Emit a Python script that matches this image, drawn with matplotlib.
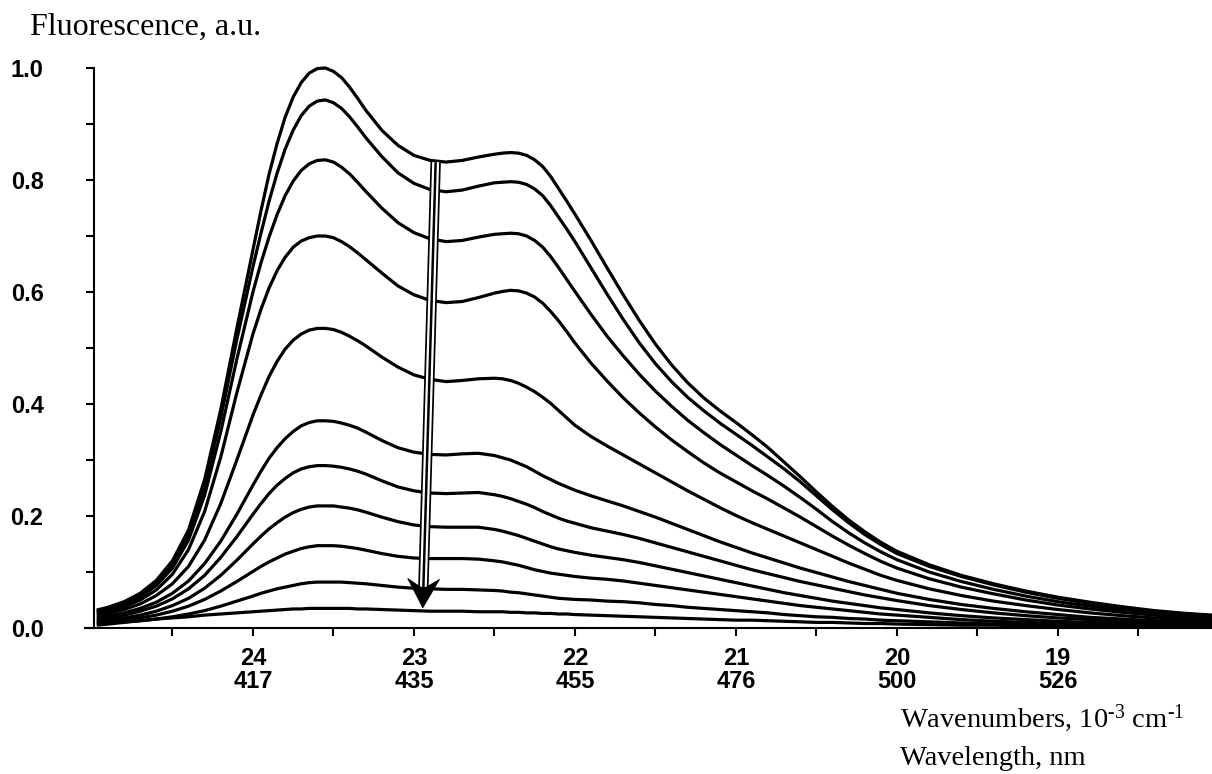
import math
import matplotlib
matplotlib.use("Agg")
import matplotlib.pyplot as plt
from matplotlib.patches import Polygon

# ---------------- data ----------------
wavenumber = [24.97, 24.9, 24.8, 24.7, 24.6, 24.5, 24.4, 24.3, 24.2, 24.1,
              24.0, 23.95, 23.9, 23.85, 23.8, 23.75, 23.7, 23.65, 23.6, 23.55,
              23.5, 23.45, 23.4, 23.35, 23.3, 23.2, 23.1, 23.0, 22.9, 22.8,
              22.7, 22.6, 22.5, 22.45, 22.4, 22.35, 22.3, 22.25, 22.2, 22.15,
              22.1, 22.05, 22.0, 21.9, 21.8, 21.7, 21.6, 21.5, 21.4, 21.3,
              21.2, 21.1, 21.0, 20.9, 20.8, 20.7, 20.6, 20.5, 20.4, 20.3,
              20.2, 20.1, 20.0, 19.8, 19.6, 19.4, 19.2, 19.0, 18.8, 18.6,
              18.4, 18.2, 18.04]

c1 = [0.032, 0.037, 0.047, 0.062, 0.085, 0.12, 0.175, 0.265, 0.39, 0.535,
      0.675, 0.745, 0.81, 0.865, 0.912, 0.948, 0.974, 0.991, 0.999, 1.0,
      0.994, 0.983, 0.966, 0.946, 0.925, 0.889, 0.862, 0.844, 0.835, 0.832,
      0.835, 0.841, 0.846, 0.848, 0.849, 0.848, 0.844, 0.836, 0.824, 0.806,
      0.784, 0.762, 0.739, 0.692, 0.643, 0.595, 0.549, 0.507, 0.47, 0.438,
      0.411, 0.388, 0.367, 0.345, 0.322, 0.296, 0.27, 0.243, 0.217, 0.193,
      0.172, 0.153, 0.137, 0.113, 0.094, 0.079, 0.066, 0.055, 0.046, 0.038,
      0.031, 0.026, 0.023]
c2 = [0.030, 0.035, 0.045, 0.059, 0.081, 0.114, 0.167, 0.252, 0.375, 0.515,
      0.645, 0.705, 0.762, 0.812, 0.855, 0.889, 0.915, 0.932, 0.941, 0.943,
      0.938, 0.928, 0.913, 0.895, 0.876, 0.842, 0.813, 0.794, 0.783, 0.779,
      0.782, 0.789, 0.795, 0.796, 0.797, 0.796, 0.792, 0.784, 0.772, 0.754,
      0.733, 0.712, 0.69, 0.643, 0.596, 0.551, 0.509, 0.472, 0.44, 0.412,
      0.388, 0.366, 0.346, 0.326, 0.305, 0.284, 0.261, 0.236, 0.211, 0.188,
      0.167, 0.149, 0.133, 0.11, 0.092, 0.077, 0.064, 0.053, 0.044, 0.036,
      0.03, 0.025, 0.022]
c3 = [0.028, 0.033, 0.042, 0.055, 0.076, 0.107, 0.157, 0.237, 0.35, 0.48,
      0.60, 0.652, 0.698, 0.738, 0.772, 0.798, 0.817, 0.829, 0.835, 0.836,
      0.832, 0.823, 0.811, 0.796, 0.78, 0.75, 0.724, 0.706, 0.695, 0.69,
      0.692, 0.698, 0.703, 0.704, 0.705, 0.704, 0.70, 0.692, 0.68, 0.663,
      0.643, 0.622, 0.601, 0.56, 0.521, 0.486, 0.453, 0.423, 0.396, 0.371,
      0.349, 0.328, 0.309, 0.29, 0.272, 0.253, 0.233, 0.212, 0.19, 0.17,
      0.152, 0.136, 0.122, 0.10, 0.083, 0.069, 0.057, 0.047, 0.039, 0.032,
      0.027, 0.022, 0.02]
c4 = [0.025, 0.03, 0.038, 0.05, 0.068, 0.096, 0.14, 0.208, 0.305, 0.42,
      0.525, 0.569, 0.607, 0.638, 0.662, 0.68, 0.691, 0.697, 0.70, 0.70,
      0.697, 0.69, 0.681, 0.67, 0.658, 0.634, 0.611, 0.595, 0.585, 0.581,
      0.583, 0.59, 0.598, 0.601, 0.603, 0.602, 0.598, 0.591, 0.58, 0.565,
      0.548, 0.529, 0.509, 0.473, 0.441, 0.411, 0.384, 0.359, 0.336, 0.315,
      0.295, 0.277, 0.261, 0.245, 0.23, 0.214, 0.198, 0.181, 0.164, 0.148,
      0.133, 0.119, 0.107, 0.088, 0.073, 0.061, 0.05, 0.041, 0.034, 0.028,
      0.023, 0.019, 0.017]
c5 = [0.022, 0.026, 0.033, 0.043, 0.058, 0.079, 0.11, 0.157, 0.222, 0.30,
      0.38, 0.416, 0.449, 0.476, 0.498, 0.514, 0.525, 0.532, 0.535, 0.535,
      0.533, 0.528, 0.521, 0.513, 0.504, 0.484, 0.466, 0.452, 0.444, 0.44,
      0.442, 0.445, 0.446, 0.445, 0.442, 0.437, 0.43, 0.422, 0.412, 0.401,
      0.388, 0.375, 0.362, 0.342, 0.325, 0.309, 0.293, 0.277, 0.261, 0.245,
      0.23, 0.215, 0.201, 0.188, 0.176, 0.164, 0.152, 0.14, 0.128, 0.116,
      0.105, 0.094, 0.085, 0.07, 0.058, 0.048, 0.04, 0.033, 0.027, 0.022,
      0.018, 0.015, 0.013]
c6 = [0.018, 0.021, 0.027, 0.035, 0.046, 0.062, 0.084, 0.115, 0.155, 0.203,
      0.255, 0.28, 0.303, 0.322, 0.338, 0.351, 0.361, 0.367, 0.37, 0.37,
      0.369, 0.366, 0.362, 0.357, 0.35, 0.335, 0.322, 0.314, 0.31, 0.309,
      0.311, 0.312, 0.308, 0.304, 0.30, 0.294, 0.288, 0.28, 0.272, 0.265,
      0.258, 0.252, 0.246, 0.236, 0.227, 0.218, 0.208, 0.198, 0.187, 0.176,
      0.165, 0.154, 0.144, 0.134, 0.125, 0.116, 0.107, 0.099, 0.091, 0.083,
      0.076, 0.069, 0.062, 0.051, 0.042, 0.035, 0.029, 0.024, 0.019, 0.016,
      0.013, 0.011, 0.01]
c7 = [0.015, 0.018, 0.023, 0.03, 0.039, 0.052, 0.07, 0.094, 0.126, 0.163,
      0.203, 0.222, 0.24, 0.255, 0.267, 0.277, 0.284, 0.288, 0.29, 0.29,
      0.289, 0.287, 0.284, 0.28, 0.275, 0.263, 0.252, 0.245, 0.241, 0.24,
      0.241, 0.242, 0.238, 0.235, 0.231, 0.226, 0.221, 0.215, 0.208, 0.202,
      0.196, 0.191, 0.187, 0.179, 0.173, 0.167, 0.16, 0.152, 0.144, 0.136,
      0.128, 0.12, 0.112, 0.104, 0.097, 0.09, 0.083, 0.077, 0.071, 0.065,
      0.059, 0.054, 0.049, 0.04, 0.033, 0.027, 0.022, 0.018, 0.015, 0.012,
      0.01, 0.009, 0.008]
c8 = [0.012, 0.014, 0.018, 0.023, 0.03, 0.04, 0.053, 0.071, 0.094, 0.121,
      0.15, 0.164, 0.177, 0.188, 0.198, 0.206, 0.212, 0.216, 0.218, 0.218,
      0.218, 0.216, 0.214, 0.211, 0.207, 0.198, 0.19, 0.184, 0.181, 0.18,
      0.18, 0.18, 0.176, 0.173, 0.169, 0.165, 0.16, 0.155, 0.15, 0.145,
      0.141, 0.138, 0.135, 0.13, 0.126, 0.122, 0.117, 0.111, 0.105, 0.099,
      0.093, 0.087, 0.081, 0.075, 0.069, 0.063, 0.058, 0.053, 0.048, 0.044,
      0.04, 0.036, 0.033, 0.027, 0.022, 0.018, 0.015, 0.012, 0.01, 0.008,
      0.007, 0.006, 0.006]
c9 = [0.01, 0.011, 0.014, 0.018, 0.023, 0.03, 0.039, 0.051, 0.066, 0.083,
      0.101, 0.11, 0.118, 0.125, 0.132, 0.137, 0.142, 0.145, 0.147, 0.147,
      0.147, 0.146, 0.144, 0.142, 0.139, 0.133, 0.128, 0.125, 0.124, 0.124,
      0.124, 0.123, 0.12, 0.118, 0.115, 0.112, 0.108, 0.104, 0.101, 0.098,
      0.096, 0.094, 0.092, 0.089, 0.087, 0.084, 0.08, 0.076, 0.072, 0.068,
      0.064, 0.06, 0.056, 0.052, 0.048, 0.044, 0.04, 0.037, 0.034, 0.031,
      0.028, 0.025, 0.023, 0.019, 0.015, 0.012, 0.01, 0.008, 0.007, 0.006,
      0.005, 0.005, 0.004]
c10 = [0.008, 0.009, 0.011, 0.013, 0.016, 0.02, 0.025, 0.031, 0.039, 0.048,
       0.057, 0.062, 0.066, 0.07, 0.073, 0.076, 0.079, 0.081, 0.082, 0.082,
       0.082, 0.082, 0.081, 0.08, 0.079, 0.076, 0.073, 0.071, 0.07, 0.069,
       0.069, 0.068, 0.067, 0.066, 0.064, 0.063, 0.061, 0.059, 0.057, 0.055,
       0.053, 0.052, 0.051, 0.05, 0.048, 0.047, 0.045, 0.042, 0.04, 0.037,
       0.035, 0.033, 0.031, 0.029, 0.027, 0.024, 0.022, 0.02, 0.019, 0.017,
       0.016, 0.014, 0.013, 0.011, 0.009, 0.007, 0.006, 0.005, 0.004, 0.004,
       0.003, 0.003, 0.003]
c11 = [0.005, 0.007, 0.01, 0.013, 0.016, 0.018, 0.02, 0.023, 0.025, 0.027,
       0.029, 0.03, 0.031, 0.032, 0.033, 0.034, 0.034, 0.035, 0.035, 0.035,
       0.035, 0.035, 0.035, 0.034, 0.034, 0.033, 0.032, 0.031, 0.03, 0.03,
       0.03, 0.029, 0.029, 0.029, 0.028, 0.028, 0.027, 0.027, 0.026, 0.026,
       0.025, 0.025, 0.024, 0.023, 0.022, 0.021, 0.02, 0.019, 0.018, 0.017,
       0.016, 0.015, 0.014, 0.014, 0.013, 0.012, 0.011, 0.01, 0.01, 0.009,
       0.008, 0.008, 0.007, 0.006, 0.005, 0.005, 0.004, 0.004, 0.003, 0.003,
       0.003, 0.002, 0.002]
curves = [c1, c2, c3, c4, c5, c6, c7, c8, c9, c10, c11]

x_major = [24, 23, 22, 21, 20, 19]
wavelength_nm = ["417", "435", "455", "476", "500", "526"]
x_minor = [24.5, 23.5, 22.5, 21.5, 20.5, 19.5, 18.5]
y_major = [0.0, 0.2, 0.4, 0.6, 0.8, 1.0]
y_minor = [0.1, 0.3, 0.5, 0.7, 0.9]

arrow_start = (22.865, 0.832)   # top of the arrow (data coords)
arrow_tip = (22.945, 0.036)     # tip of the arrow head

# ---------------- figure ----------------
plt.rcParams["mathtext.fontset"] = "custom"
plt.rcParams["mathtext.rm"] = "Liberation Serif"
plt.rcParams["mathtext.it"] = "Liberation Serif:italic"
plt.rcParams["mathtext.bf"] = "Liberation Serif:bold"

W, H = 1212, 774
fig = plt.figure(figsize=(W / 100, H / 100), dpi=100)
ax = fig.add_axes([85 / W, (H - 628) / H, (W - 85) / W, 560 / H])
ax.set_xlim(25.043, 18.043)
ax.set_ylim(0.0, 1.0)

for c in curves:
    n = min(len(wavenumber), len(c))
    ax.plot(wavenumber[:n], c[:n], color="black", lw=2.3, solid_capstyle="butt",
            solid_joinstyle="round", clip_on=False, zorder=3)

for s in ("top", "right"):
    ax.spines[s].set_visible(False)
ax.spines["left"].set_position(("data", 24.99))
ax.spines["left"].set_linewidth(1.5)
ax.spines["bottom"].set_linewidth(1.5)

ax.set_xticks(x_major)
ax.set_xticks(x_minor, minor=True)
ax.set_xticklabels([f"{w}\n{n}" for w, n in zip(x_major, wavelength_nm)])
ax.set_yticks(y_major)
ax.set_yticks(y_minor, minor=True)
ax.set_yticklabels([f"{v:.1f}" for v in y_major])

ax.tick_params(axis="both", which="both", direction="out", length=6, width=1.5)
ax.tick_params(axis="x", which="major", pad=7.5)
ax.tick_params(axis="y", which="major", pad=30)
for lab in ax.get_xticklabels() + ax.get_yticklabels():
    lab.set_fontfamily("Liberation Sans")
    lab.set_fontweight("bold")
    lab.set_fontsize(17)
for lab in ax.get_xticklabels():
    lab.set_linespacing(1.0)

# ---------------- arrow ----------------
fig.canvas.draw()
to_disp = ax.transData.transform
to_data = ax.transData.inverted().transform
(sx, sy) = to_disp(arrow_start)
(tx, ty) = to_disp(arrow_tip)
head_len, head_half, notch = 29, 16, 10
L = math.hypot(tx - sx, ty - sy)
ux, uy = (tx - sx) / L, (ty - sy) / L
px_, py_ = -uy, ux
bx, by = tx - ux * head_len, ty - uy * head_len
shaft_end = to_data((tx - ux * (head_len - notch + 2), ty - uy * (head_len - notch + 2)))
xs = [arrow_start[0], shaft_end[0]]
ys = [arrow_start[1], shaft_end[1]]
ax.plot(xs, ys, color="black", lw=7.5, solid_capstyle="butt", zorder=5, clip_on=False)
ax.plot(xs, ys, color="white", lw=5.0, solid_capstyle="butt", zorder=6, clip_on=False)
ax.plot(xs, ys, color="black", lw=1.8, solid_capstyle="butt", zorder=7, clip_on=False)
head_pts_disp = [(tx, ty),
                 (bx + px_ * head_half, by + py_ * head_half),
                 (tx - ux * (head_len - notch), ty - uy * (head_len - notch)),
                 (bx - px_ * head_half, by - py_ * head_half)]
head_pts = [tuple(to_data(p)) for p in head_pts_disp]
ax.add_patch(Polygon(head_pts, closed=True, facecolor="black", edgecolor="black",
                     lw=0.5, zorder=8, clip_on=False))

# ---------------- texts ----------------
fig.text(30 / W, 1 - 35 / H, "Fluorescence, a.u.", ha="left", va="baseline",
         family="Liberation Serif", fontsize=23)
fig.text(900 / W, 1 - 727 / H, r"Wavenumbers, 10$^{\text{-3}}$ cm$^{\text{-1}}$",
         ha="left", va="baseline", family="Liberation Serif", fontsize=20.5)
fig.text(900 / W, 1 - 765 / H, "Wavelength, nm", ha="left", va="baseline",
         family="Liberation Serif", fontsize=20.5)

fig.savefig("out.png", dpi=100)
